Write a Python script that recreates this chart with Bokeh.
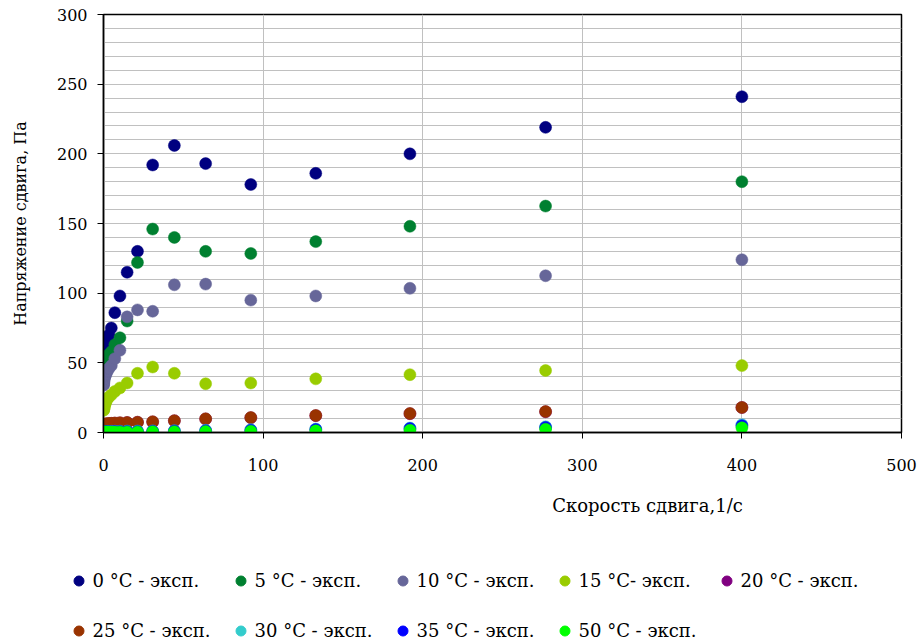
from bokeh.plotting import figure
from bokeh.layouts import column
from bokeh.models import SingleIntervalTicker, Legend, LegendItem, Label, ColumnDataSource
from bokeh.embed import file_html
from bokeh.resources import INLINE

# Shear rate, 1/s
shear_rate = [0.09, 0.13, 0.18, 0.26, 0.38, 0.55, 0.79, 1.14, 1.64, 2.37, 3.4, 4.9,
              7.1, 10.3, 14.8, 21.3, 30.8, 44.4, 64.0, 92.3, 133, 192, 277, 400]

# Shear stress, Pa
stress_0 = [50, 51, 53, 55, 57, 59, 61, 63, 65, 67, 70, 75,
            86, 98, 115, 130, 192, 206, 193, 178, 186, 200, 219, 241]
stress_5 = [45, 46, 47, 48, 49, 50, 51, 52, 53, 54, 56, 58,
            63, 68, 80, 122, 146, 140, 130, 128.5, 137, 148, 162.5, 180]
stress_10 = [34, 35, 36, 37, 38, 39, 40, 41, 42, 44, 46, 48,
             53, 59, 83, 88, 87, 106, 106.5, 95, 98, 103.5, 112.5, 124]
stress_15 = [16, 16.5, 17, 17.5, 18, 19, 20, 21, 22.5, 24, 25.5, 27,
             29.5, 32, 35.5, 42.5, 47, 42.5, 35, 35.5, 38.5, 41.5, 44.5, 48]
stress_20 = [5, 5, 5.1, 5.3, 5.4, 5.5, 5.7, 5.9, 6, 6.1, 6.3, 6.5,
             6.7, 6.9, 7.1, 7.3, 7.6, 8.4, 9.7, 10.6, 12.1, 13.5, 14.9, 17.9]
stress_25 = [5, 5, 5.2, 5.4, 5.5, 5.6, 5.8, 6, 6.1, 6.2, 6.4, 6.6,
             6.8, 7, 7.2, 7.4, 7.7, 8.5, 9.8, 10.7, 12.2, 13.6, 15, 18]
stress_30 = [0.6, 0.6, 0.6, 0.6, 0.6, 0.7, 0.7, 0.7, 0.7, 0.8, 0.8, 0.8,
             0.9, 0.9, 1.0, 1.0, 1.1, 1.3, 1.6, 2.0, 2.5, 3.2, 4.1, 5.6]
stress_35 = [0.4, 0.4, 0.4, 0.4, 0.5, 0.5, 0.5, 0.5, 0.5, 0.6, 0.6, 0.6,
             0.7, 0.7, 0.8, 0.8, 0.9, 1.1, 1.3, 1.7, 2.2, 2.8, 3.6, 4.9]
stress_50 = [0.2, 0.2, 0.2, 0.2, 0.2, 0.2, 0.2, 0.3, 0.3, 0.3, 0.3, 0.3,
             0.3, 0.4, 0.4, 0.4, 0.5, 0.6, 0.7, 0.9, 1.2, 1.7, 2.4, 3.4]

series_labels = ["0 °C - эксп.", "5 °C - эксп.", "10 °C - эксп.", "15 °C- эксп.",
                 "20 °C - эксп.", "25 °C - эксп.", "30 °C - эксп.", "35 °C - эксп.",
                 "50 °C - эксп."]
series_values = [stress_0, stress_5, stress_10, stress_15, stress_20,
                 stress_25, stress_30, stress_35, stress_50]
series_colors = ["#000080", "#008030", "#666699", "#99CC00", "#800080",
                 "#993300", "#33CCCC", "#0000FF", "#00FF00"]

FONT = "DejaVu Serif"

# ---------------- main chart ----------------
p = figure(width=921, height=480, x_range=(0, 500), y_range=(0, 300),
           output_backend="svg", toolbar_location=None,
           min_border_left=103, min_border_right=20, min_border_top=14,
           min_border_bottom=48)
p.frame_align = False

p.outline_line_color = "black"
p.outline_line_width = 1.5
p.background_fill_color = "white"

p.xaxis.ticker = SingleIntervalTicker(interval=100)
p.yaxis.ticker = SingleIntervalTicker(interval=50)
p.ygrid.ticker = SingleIntervalTicker(interval=10)
p.xgrid.ticker = SingleIntervalTicker(interval=100)
for g in (p.xgrid, p.ygrid):
    g.grid_line_color = "#c0c0c0"
    g.grid_line_width = 1

for ax in (p.xaxis, p.yaxis):
    ax.axis_line_color = "black"
    ax.axis_line_width = 1.5
    ax.major_tick_line_color = "black"
    ax.major_tick_in = 0
    ax.major_tick_out = 6
    ax.minor_tick_line_color = None
    ax.major_label_text_font = FONT
    ax.major_label_text_font_size = "16px"
    ax.major_label_text_color = "black"

p.xaxis.major_label_standoff = 20
p.yaxis.major_label_standoff = 10

p.yaxis.axis_label = "Напряжение сдвига, Па"
p.yaxis.axis_label_text_font = FONT
p.yaxis.axis_label_text_font_size = "16px"
p.yaxis.axis_label_text_font_style = "normal"
p.yaxis.axis_label_text_color = "black"
p.yaxis.axis_label_standoff = 24

for vals, col in zip(series_values, series_colors):
    src = ColumnDataSource(dict(x=shear_rate, y=vals))
    p.scatter("x", "y", source=src, size=12, marker="circle",
              fill_color=col, line_color=col, line_width=0.5)

# ---------------- legend / x-title strip ----------------
LH = 163
q = figure(width=921, height=LH, x_range=(0, 500), y_range=(0, 300),
           output_backend="svg", toolbar_location=None,
           x_axis_location=None, y_axis_location=None,
           min_border_left=0, min_border_right=0, min_border_top=0,
           min_border_bottom=0)
q.frame_align = False
q.grid.visible = False
q.outline_line_color = None

legend_renderers = []
for vals, col in zip(series_values, series_colors):
    src = ColumnDataSource(dict(x=shear_rate, y=vals))
    r = q.scatter("x", "y", source=src, size=10, marker="circle",
                  fill_color=col, line_color=col)
    r.visible = False
    legend_renderers.append(r)

q.add_layout(Label(x=647, y=LH - 25, x_units="screen", y_units="screen",
                   text="Скорость сдвига,1/с", text_align="center",
                   text_baseline="middle", text_font=FONT,
                   text_font_size="18px", text_color="black"))

def make_legend(idx, vy):
    items = [LegendItem(label=series_labels[i], renderers=[legend_renderers[i]])
             for i in idx]
    lg = Legend(items=items, orientation="horizontal", location=(65.5, vy),
                glyph_width=25, glyph_height=25, label_height=25,
                label_width=125, label_standoff=2, spacing=10,
                padding=0, margin=0, border_line_alpha=0,
                background_fill_alpha=0, inactive_fill_alpha=0,
                label_text_font=FONT,
                label_text_font_size="18px", label_text_color="black")
    q.add_layout(lg)

make_legend([0, 1, 2, 3, 4], LH - (592.5 - 480))
make_legend([5, 6, 7, 8], LH - (642.5 - 480))

layout = column(p, q, spacing=0)
open("out.html", "w").write(file_html(layout, INLINE))
